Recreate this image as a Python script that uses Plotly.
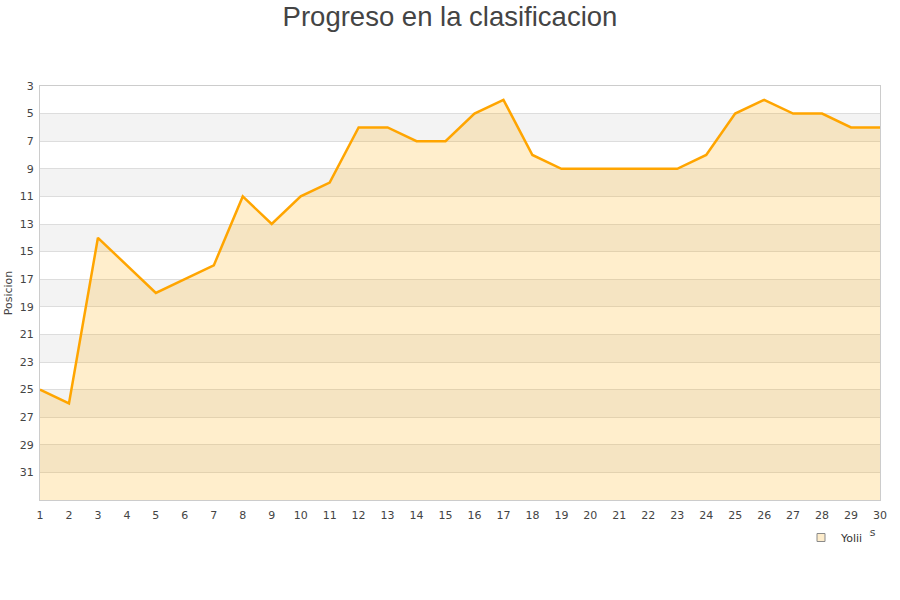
import plotly.graph_objects as go

jornadas = list(range(1, 31))
posicion = [25, 26, 14, 16, 18, 17, 16, 11, 13, 11, 10, 6, 6, 7, 7, 5, 4, 8, 9, 9,
            9, 9, 9, 8, 5, 4, 5, 5, 6, 6]
serie = "Yolii"
x_title = "Jornadas"
y_title = "Posicion"
y_ticks = list(range(3, 32, 2))
y_min, y_max = 3, 33

fig = go.Figure()

# baseline for fill
fig.add_trace(go.Scatter(x=jornadas, y=[y_max] * len(jornadas), mode="lines",
                         line=dict(width=0, color="rgba(0,0,0,0)"),
                         showlegend=False, hoverinfo="skip"))
fig.add_trace(go.Scatter(x=jornadas, y=posicion, mode="lines", fill="tonexty",
                         fillcolor="rgba(255,170,0,0.2)",
                         line=dict(color="#ffa500", width=2.5),
                         showlegend=False, name=serie))
# x axis title (drawn as first legend so the series legend covers it)
fig.add_trace(go.Scatter(x=[None], y=[None], mode="lines", name=x_title,
                         line=dict(width=0, color="rgba(0,0,0,0)"), legend="legend"))
# series legend entry
fig.add_trace(go.Scatter(x=[None], y=[None], mode="markers", name=serie,
                         legend="legend2",
                         marker=dict(symbol="square", size=8, color="#fdeccb",
                                     line=dict(color="#8a8a8a", width=1))))

shapes = []
for i, t in enumerate(y_ticks):
    if i % 2 == 1:
        shapes.append(dict(type="rect", xref="paper", yref="y", x0=0, x1=1,
                           y0=t, y1=t + 2, fillcolor="#f3f3f3", line=dict(width=0),
                           layer="below"))

plot_h = 600 - 86 - 100

fig.update_layout(
    width=900, height=600,
    margin=dict(l=40, r=20, t=86, b=100, autoexpand=False),
    paper_bgcolor="white", plot_bgcolor="white",
    font=dict(family="DejaVu Sans", size=11, color="#444"),
    title=dict(text="Progreso en la clasificacion", x=0.5, xanchor="center",
               y=1 - 16 / 600, yanchor="middle",
               font=dict(family="Liberation Sans", size=27.5, color="#444")),
    shapes=shapes,
    xaxis=dict(range=[1, 30], tickmode="array", tickvals=jornadas,
               showgrid=False, zeroline=False, showline=True, linecolor="#cccccc",
               mirror=True, ticks="", ticklen=0, automargin=False,
               ticklabelstandoff=5),
    yaxis=dict(range=[y_max, y_min], tickmode="array", tickvals=y_ticks,
               showgrid=True, gridcolor="#dddddd", gridwidth=1, zeroline=False,
               showline=True, linecolor="#cccccc", mirror=True, ticks="",
               automargin=False, ticklabelstandoff=3,
               title=dict(text=y_title, standoff=4, font=dict(size=11))),
    legend=dict(x=(788 - 40) / 840, xanchor="left", y=-(517 - 500) / plot_h,
                yanchor="top", bgcolor="rgba(0,0,0,0)",
                font=dict(size=11, color="#444"), itemwidth=30, borderwidth=0),
    legend2=dict(x=(801 - 40) / 840, xanchor="left", y=-(523 - 500) / plot_h,
                 yanchor="top", bgcolor="white", font=dict(size=11, color="#333"),
                 itemwidth=30, borderwidth=0),
)

fig.write_html("out.html", post_script="document.body.style.margin='0';",
               config={"displayModeBar": False})
